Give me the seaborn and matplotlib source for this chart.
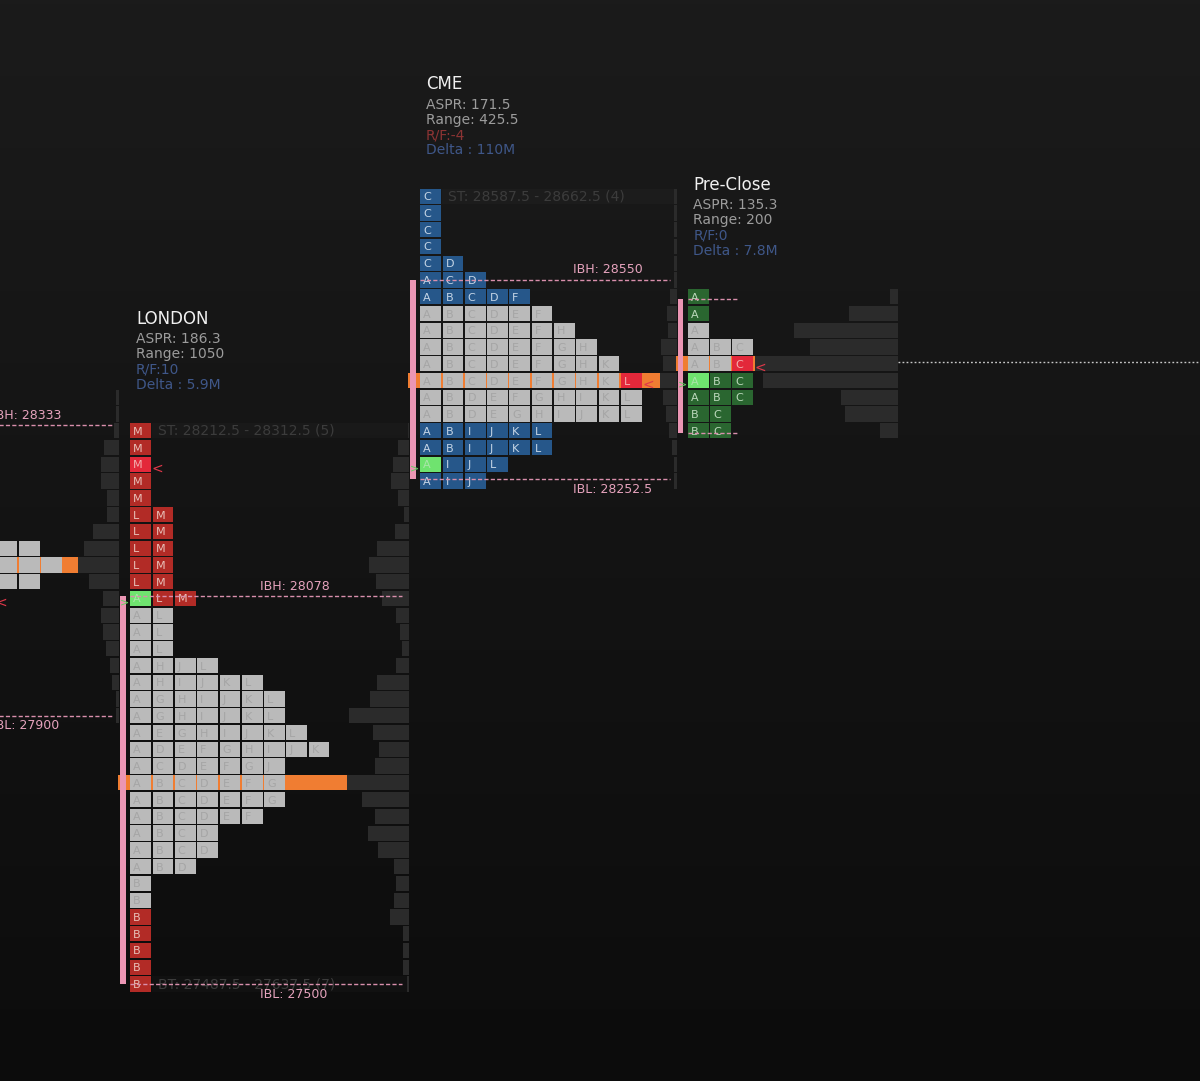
import numpy as np
import pandas as pd
import matplotlib.pyplot as plt
import seaborn as sns
from matplotlib.colors import LinearSegmentedColormap

sns.set_theme(style="dark")
plt.rcParams['font.family'] = ['DejaVu Sans']

TICK = 25          # price per TPO row
PX_X = 22.3        # pixels per TPO column
PX_Y = 0.6705      # pixels per price point

# ---------------- data ----------------
# previous session, mostly off screen to the left
left_start, left_end = -9, -0.5
left_top = 28150
left_rows = ["ABCDE", "ABCDEF", "ABCDE", "ABC"]
left_va = (28150, 28075)
left_poc = 28125
left_close = (28075, 2)
left_ib = (28333, 27900)
left_ib_end = -0.8
left_ib_label_x = -6.18
left_vol_top = 28375
left_vol = [3, 3, 5, 15, 18, 18, 12, 12, 26, 35, 41, 30, 16, 18, 16, 13, 9, 7, 3, 3]

# LONDON
london_start, london_end = 0, 12.5
london_top = 28325
london_rows = ["M", "M", "M", "M", "M", "LM", "LM", "LM", "LM", "LM", "ALM",
               "AL", "AL", "AL", "AHJL", "AHIJKL", "AGHIJKL", "AGHIJKL",
               "AEGHIJKL", "ADEFGHIJK", "ACDEFGJ", "ABCDEFG", "ABCDEFG",
               "ABCDEF", "ABCD", "ABCD", "ABD", "B", "B", "B", "B", "B", "B", "B"]
london_vol = [1, 11, 16, 18, 11, 5, 14, 32, 40, 33, 27, 13, 9, 7, 13, 32, 39,
              60, 36, 30, 34, 62, 47, 34, 41, 31, 15, 13, 15, 19, 6, 6, 6, 2]
london_va = (28050, 27625)
london_poc = 27800
london_open = (28075, 0)
london_close = (28275, 0)
london_ib = (28078, 27500)
london_ib_end = 12.2
london_ib_label_x = 5.8
london_st = (28212.5, 28312.5, 5)
london_bt = (27487.5, 27637.5, 7)
london_stats = ("LONDON", 186.3, 1050, 10, "5.9M")

# CME
cme_start, cme_end = 13, 24.5
cme_top = 28675
cme_rows = ["C", "C", "C", "C", "CD", "ACD", "ABCDF", "ABCDEF", "ABCDEFH",
            "ABCDEFGH", "ABCDEFGHK", "ABCDEFGHKL", "ABDEFGHIKL", "ABDEGHIJKL",
            "ABIJKL", "ABIJKL", "AIJL", "AIJ"]
cme_vol = [3, 3, 3, 3, 3, 3, 7, 10, 9, 16, 14, 17, 14, 11, 8, 5, 3, 3]
cme_va = (28500, 28350)
cme_poc = 28400
cme_open = (28275, 0)
cme_close = (28400, 9)
cme_ib = (28550, 28252.5)
cme_ib_end = 24.2
cme_ib_label_x = 19.84
cme_st = (28587.5, 28662.5, 4)
cme_stats = ("CME", 171.5, 425.5, -4, "110M")

# Pre-Close
pc_start, pc_end = 25, 34.43
pc_top = 28525
pc_rows = ["A", "A", "A", "ABC", "ABC", "ABC", "ABC", "BC", "BC"]
pc_vol = [8, 49, 104, 88, 143, 135, 57, 53, 18]
pc_va = (28475, 28425)
pc_poc = 28425
pc_open = (28400, 0)
pc_close = (28425, 2)
pc_ib = (28521, 28322)
pc_ib_end = 27.24
pc_last = 28428
pc_stats = ("Pre-Close", 135.3, 200, 0, "7.8M")

# ---------------- styles ----------------
CELL_W, CELL_H = 0.93, 22.8
VA_FILL, VA_TEXT = "#bababa", "#a5a5a5"
OPEN_FILL, OPEN_TEXT = "#6fe36f", "#a9e6a9"
CLOSE_FILL, CLOSE_TEXT = "#e3283a", "#f2b0b0"
ORANGE = "#f07d32"
PINK = "#eb96b4"
IB_LINE = "#d98fac"
IB_TEXT = "#e6a3bd"
VOL = "#2b2b2b"
BLUE_TXT = "#3f5789"
RED_TXT = "#8c3434"

xmin, xmax = -130.3 / PX_X, (1200 - 130.3) / PX_X
ymin, ymax = 27500 - 97 / PX_Y, 27500 + 984 / PX_Y

fig = plt.figure(figsize=(12, 10.81), dpi=100)
fig.patch.set_facecolor("#141414")
ax = fig.add_axes([0, 0, 1, 1])
bg = LinearSegmentedColormap.from_list("bg", ["#1b1b1b", "#0c0c0c"])
ax.imshow(np.linspace(0, 1, 256).reshape(-1, 1), extent=[xmin, xmax, ymin, ymax],
          aspect="auto", cmap=bg, origin="upper", zorder=0)


def draw_volume(end, top, vol):
    prices = top - TICK * np.arange(len(vol))
    df = pd.DataFrame({"price": prices, "width": -np.array(vol) / PX_X})
    sns.barplot(data=df, x="width", y="price", orient="h", native_scale=True,
                width=0.91, color=VOL, saturation=1, linewidth=0, errorbar=None,
                left=end, zorder=1, ax=ax)


def draw_tpo(start, top, rows, va, fill, text, open_cell=None, close_cell=None,
             letters_on=True):
    for i, letters in enumerate(rows):
        price = top - i * TICK
        in_va = va[1] <= price <= va[0]
        fills = [VA_FILL if in_va else fill] * len(letters)
        texts = [VA_TEXT if in_va else text] * len(letters)
        if open_cell and open_cell[0] == price:
            fills[open_cell[1]], texts[open_cell[1]] = OPEN_FILL, OPEN_TEXT
        if close_cell and close_cell[0] == price:
            fills[close_cell[1]], texts[close_cell[1]] = CLOSE_FILL, CLOSE_TEXT
        cols = start + np.arange(len(letters))
        ax.barh(price, CELL_W, left=cols, height=CELL_H, color=fills,
                linewidth=0, zorder=3)
        if not letters_on:
            continue
        for c, ch, tc in zip(cols, letters, texts):
            ax.text(c + 0.13, price - 6, ch, color=tc, fontsize=8,
                    ha="left", va="baseline", zorder=3.5)


def draw_poc(start, end, top, vol, poc):
    v = vol[int(round((top - poc) / TICK))] / PX_X
    left = start - 0.54
    ax.barh(poc, end - v - left, left=left, height=CELL_H, color=ORANGE,
            linewidth=0, zorder=2)


def draw_ib(start, ib, line_end, label_x=None):
    ibh, ibl = ib
    ax.bar(start - 0.32, ibh - ibl, bottom=ibl, width=0.25, color=PINK,
           linewidth=0, zorder=4)
    for p in ib:
        ax.plot([start, line_end], [p, p], color=IB_LINE, lw=1.0,
                ls=(0, (3, 1.6)), zorder=5)
    if label_x is not None:
        ax.text(label_x, ibh + 10 / PX_Y, f"IBH: {ibh:g}", color=IB_TEXT,
                fontsize=9, ha="left", va="center", zorder=6)
        ax.text(label_x, ibl - 10 / PX_Y, f"IBL: {ibl:g}", color=IB_TEXT,
                fontsize=9, ha="left", va="center", zorder=6)


def draw_marks(start, open_cell, close_cell):
    if open_cell:
        ax.text(start - 0.45, open_cell[0] - 6, ">", color="#5fd35f",
                fontsize=8, ha="left", va="center", zorder=6)
    if close_cell:
        ax.text(start + close_cell[1] + CELL_W + 0.04, close_cell[0] - 6, "<",
                color="#e0384a", fontsize=10, ha="left", va="center", zorder=6)


def draw_tail(start, end, price, kind, tail):
    lo, hi, n = tail
    ax.barh(price, end - (start + 0.97), left=start + 0.97, height=CELL_H,
            color="white", alpha=0.02, linewidth=0, zorder=0.5)
    ax.text(start + 1.25, price, f"{kind}: {lo:g} - {hi:g} ({n})", color="#3c3c3c",
            fontsize=10, ha="left", va="center", zorder=2.5)


def draw_stats(start, top, stats):
    name, aspr, rng, rf, delta = stats
    y0 = top + 167
    offs = np.array([0, 20.5, 35.5, 51, 66]) / PX_Y
    x = start + 0.25
    ax.text(x, y0, name, color="#f0f0f0", fontsize=12, ha="left", va="center")
    ax.text(x, y0 - offs[1], f"ASPR: {aspr:g}", color="#9c9c9c", fontsize=10, va="center")
    ax.text(x, y0 - offs[2], f"Range: {rng:g}", color="#9c9c9c", fontsize=10, va="center")
    ax.text(x, y0 - offs[3], f"R/F:{rf}", color=RED_TXT if rf < 0 else BLUE_TXT,
            fontsize=10, va="center")
    ax.text(x, y0 - offs[4], f"Delta : {delta}", color=BLUE_TXT, fontsize=10, va="center")


# previous session
draw_volume(left_end, left_vol_top, left_vol)
draw_poc(left_start, left_end, left_vol_top, left_vol, left_poc)
draw_tpo(left_start, left_top, left_rows, left_va, VA_FILL, VA_TEXT, None, left_close,
         letters_on=False)
draw_ib(left_start, left_ib, left_ib_end, left_ib_label_x)
draw_marks(left_start, None, left_close)

# London
draw_tail(london_start, london_end, london_top, "ST", london_st)
draw_tail(london_start, london_end, london_top - TICK * (len(london_rows) - 1), "BT", london_bt)
draw_volume(london_end, london_top, london_vol)
draw_poc(london_start, london_end, london_top, london_vol, london_poc)
draw_tpo(london_start, london_top, london_rows, london_va, "#b22b26", "#e8c0b8",
         london_open, london_close)
draw_ib(london_start, london_ib, london_ib_end, london_ib_label_x)
draw_marks(london_start, london_open, london_close)
draw_stats(london_start, london_top, london_stats)

# CME
draw_tail(cme_start, cme_end, cme_top, "ST", cme_st)
draw_volume(cme_end, cme_top, cme_vol)
draw_poc(cme_start, cme_end, cme_top, cme_vol, cme_poc)
draw_tpo(cme_start, cme_top, cme_rows, cme_va, "#26578a", "#c5d5e6", cme_open, cme_close)
draw_ib(cme_start, cme_ib, cme_ib_end, cme_ib_label_x)
draw_marks(cme_start, cme_open, cme_close)
draw_stats(cme_start, cme_top, cme_stats)

# Pre-Close
draw_volume(pc_end, pc_top, pc_vol)
draw_poc(pc_start, pc_end, pc_top, pc_vol, pc_poc)
draw_tpo(pc_start, pc_top, pc_rows, pc_va, "#2a6630", "#bcd8bc", pc_open, pc_close)
draw_ib(pc_start, pc_ib, pc_ib_end)
draw_marks(pc_start, pc_open, pc_close)
draw_stats(pc_start, pc_top, pc_stats)
ax.plot([pc_end, xmax], [pc_last, pc_last], color="#c8c8c8", lw=1.0,
        ls=(0, (1.3, 1.6)), zorder=5)

ax.set_xlim(xmin, xmax)
ax.set_ylim(ymin, ymax)
ax.axis("off")
fig.savefig("out.png", dpi=100, facecolor=fig.get_facecolor())
